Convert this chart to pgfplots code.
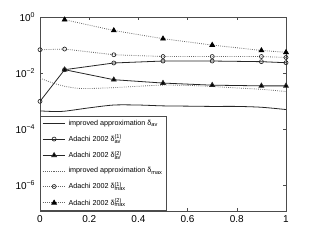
\documentclass[border=0pt]{standalone}
\usepackage{pgfplots}
\pgfplotsset{compat=1.18}
\usepackage{fontspec}
\setmainfont{Liberation Sans}
\newcommand\dss[2]{δ\rlap{\raisebox{0.7ex}{\fontsize{4.2}{5}\selectfont #1}}\raisebox{-0.45ex}{\fontsize{4.2}{5}\selectfont #2}}
\begin{document}
\begin{tikzpicture}
\path[use as bounding box] (-30pt,-21.75pt) rectangle (207pt,158.25pt);
\begin{axis}[
  at={(0,0)}, anchor=south west,
  scale only axis, width=184.5pt, height=145.5pt,
  ymode=log, xmin=0, xmax=1, ymin=1.2e-7, ymax=1,
  xtick={0,0.2,0.4,0.6,0.8,1}, xticklabels={0,0.2,0.4,0.6,0.8,1},
  ytick={1e-6,1e-4,1e-2,1}, yticklabels={10\textsuperscript{−6},10\textsuperscript{−4},10\textsuperscript{−2},10\textsuperscript{0}},
  minor ytick={}, yminorticks=false,
  tick align=inside, major tick length=2.5pt,
  tick style={black!70, line width=0.4pt},
  axis line style={black!70, line width=0.5pt},
  tick label style={font=\fontsize{7.5}{9}\selectfont},
  legend cell align=left,
  legend style={at={(0,0)}, anchor=south west, font=\fontsize{5.4}{6}\selectfont,
    draw=black!70, line width=0.5pt, row sep=1.5pt, inner xsep=1.5pt, inner ysep=0.5pt,
    nodes={inner ysep=2.1pt}},
  legend image post style={line width=0.6pt},
]
\addplot[black!85, line width=0.6pt, smooth, no markers] coordinates {
(0,4.47e-4) (0.05,4.27e-4) (0.1,4.37e-4) (0.2,5.75e-4) (0.3,7.24e-4) (0.4,7.24e-4)
(0.5,6.76e-4) (0.6,6.61e-4) (0.7,6.46e-4) (0.8,6.46e-4) (0.9,6.03e-4) (1.0,5.0e-4)};
\addlegendentry{improved approximation δ\raisebox{-0.45ex}{\fontsize{4.2}{5}\selectfont av}}
\addplot[black!85, line width=0.6pt, mark=o, mark size=1.5pt, mark options={solid, line width=0.5pt}] coordinates {
(0,9.8e-4) (0.1,0.0132) (0.3,0.0229) (0.5,0.0269) (0.7,0.0269) (0.9,0.0255) (1,0.0234)};
\addlegendentry{Adachi 2002 \dss{(1)}{av}}
\addplot[black!85, line width=0.6pt, mark=triangle*, mark size=2pt, mark options={solid, fill=black}] coordinates {
(0.1,0.0132) (0.3,0.0058) (0.5,0.0044) (0.7,0.0037) (0.9,0.0035) (1,0.0035)};
\addlegendentry{Adachi 2002 \dss{(2)}{av}}
\addplot[black!60, line width=0.6pt, densely dotted, smooth, no markers] coordinates {
(0,6.6e-3) (0.05,4.47e-3) (0.1,3.39e-3) (0.15,2.88e-3) (0.2,2.82e-3) (0.3,3.02e-3)
(0.4,3.39e-3) (0.5,3.72e-3) (0.6,3.63e-3) (0.7,3.31e-3) (0.8,2.95e-3) (0.9,2.63e-3) (1.0,2.19e-3)};
\addlegendentry{improved approximation δ\raisebox{-0.45ex}{\fontsize{4.2}{5}\selectfont max}}
\addplot[black!60, line width=0.6pt, densely dotted, mark=o, mark size=1.5pt, mark options={solid, black!85, line width=0.5pt}] coordinates {
(0,0.068) (0.1,0.072) (0.3,0.045) (0.5,0.039) (0.7,0.039) (0.9,0.039) (1,0.036)};
\addlegendentry{Adachi 2002 \dss{(1)}{max}}
\addplot[black!60, line width=0.6pt, densely dotted, mark=triangle*, mark size=2pt, mark options={solid, fill=black, draw=black}] coordinates {
(0.1,0.80) (0.3,0.33) (0.5,0.168) (0.7,0.10) (0.9,0.064) (1,0.055)};
\addlegendentry{Adachi 2002 \dss{(2)}{max}}
\end{axis}
\end{tikzpicture}
\end{document}
